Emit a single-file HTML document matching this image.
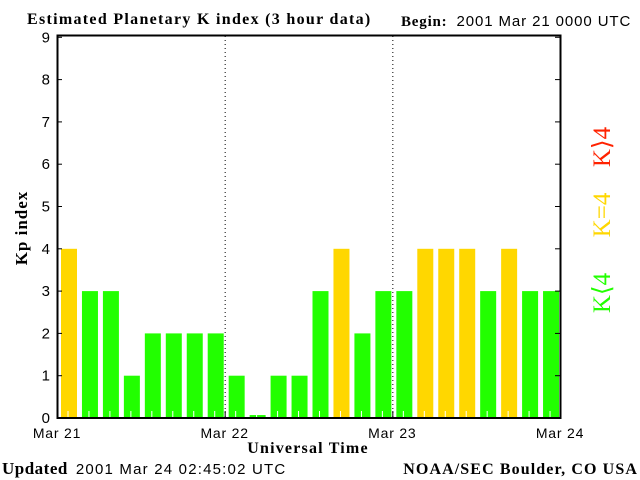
<!DOCTYPE html>
<html><head><meta charset="utf-8"><style>
body{margin:0;background:#fff}
svg{display:block}
.t{font-family:"Liberation Sans",sans-serif;font-size:13px;fill:#000}
.s{font-family:"Liberation Serif",serif;font-weight:bold;font-size:14px;fill:#000}
</style></head><body>
<svg id="c" width="640" height="480" xmlns="http://www.w3.org/2000/svg">
<rect width="640" height="480" fill="#fff"/>
<text class="s" x="27" y="24" style="font-size:16px;letter-spacing:1.3px">Estimated Planetary K index (3 hour data)</text>
<text x="401" y="26"><tspan class="s" style="font-size:15px;letter-spacing:0.8px">Begin:</tspan><tspan class="t" dx="9" style="font-size:15px;letter-spacing:0.9px">2001 Mar 21 0000 UTC</tspan></text>
<text class="s" x="27" y="228" transform="rotate(-90 27 228)" text-anchor="middle" style="font-size:17px;letter-spacing:1px">Kp index</text>
<text class="s" x="308" y="453" text-anchor="middle" style="font-size:16px;letter-spacing:1.2px">Universal Time</text>
<text x="2" y="474"><tspan class="s" style="font-size:17px;letter-spacing:0.5px">Updated</tspan><tspan class="t" dx="8" style="font-size:15px;letter-spacing:1.2px">2001 Mar 24 02:45:02 UTC</tspan></text>
<text class="s" x="638" y="474" text-anchor="end" style="font-size:16px;letter-spacing:1.1px">NOAA/SEC Boulder, CO USA</text>
<g font-family="Liberation Serif,serif" font-size="25">
<text x="610" y="147" fill="#ff2200" text-anchor="middle" transform="rotate(-90 610 147)">K⟩4</text>
<text x="610" y="215" fill="#ffd700" text-anchor="middle" transform="rotate(-90 610 215)">K=4</text>
<text x="610" y="293" fill="#22ff00" text-anchor="middle" transform="rotate(-90 610 293)">K⟨4</text>
</g>
<g id="plot"></g>
</svg>
<script>
const kpValues=[4,3,3,1,2,2,2,2, 1,0.07,1,1,3,4,2,3, 3,4,4,4,3,4,3,3];
const dayLabels=["Mar 21","Mar 22","Mar 23","Mar 24"];
const yTicks=[0,1,2,3,4,5,6,7,8,9];
const X0=57,X1=560,Y0=418,UNIT=42.3;
const slot=(X1-X0)/kpValues.length;
const xs=i=>X0+i*slot;
const ys=v=>Y0-v*UNIT;
const NS="http://www.w3.org/2000/svg";
const g=document.getElementById('plot');
function mk(t,a){const e=document.createElementNS(NS,t);for(const k in a)e.setAttribute(k,a[k]);g.appendChild(e);return e;}
kpValues.forEach((v,i)=>{
  const col=v>4?"#ff2200":(v>=4?"#ffd700":"#22ff00");
  const r=mk('rect',{x:xs(i)+4,y:ys(v),width:16,height:Y0-ys(v),fill:col});
  
  
  const t=mk('line',{x1:xs(i)+11,x2:xs(i)+11,y1:Y0-7,y2:Y0,stroke:'#fff','stroke-width':1});
  
  
});
dayLabels.forEach((d,i)=>{
  const x=X0+i*(X1-X0)/(dayLabels.length-1);
  if(i>0&&i<dayLabels.length-1){
    const l=mk('line',{x1:x+0.5,x2:x+0.5,y1:36,y2:Y0,stroke:'#000','stroke-dasharray':'1,3'});
    
    
    const tk=mk('line',{x1:x+0.5,x2:x+0.5,y1:Y0-7,y2:Y0,stroke:'#000'});
    
    
  }
  const t=mk('text',{x:x,y:438,'text-anchor':'middle',class:'t',style:'font-size:14px;letter-spacing:0.8px'});
  t.textContent=d;
  
  
});
yTicks.forEach(v=>{
  const y=ys(v);
  const a=mk('line',{x1:X0,x2:X0+5,y1:y,y2:y,stroke:'#000'});
  
  
  const b=mk('line',{x1:X1-5,x2:X1,y1:y,y2:y,stroke:'#000'});
  
  
  const t=mk('text',{x:50,y:y+5,'text-anchor':'end',class:'t',style:'font-size:15px'});
  t.textContent=v;
  
  
});
const fr=mk('rect',{x:X0+0.5,y:35.5,width:X1-X0,height:Y0-35.5,fill:'none',stroke:'#000','stroke-width':2});


</script>
</body></html>
